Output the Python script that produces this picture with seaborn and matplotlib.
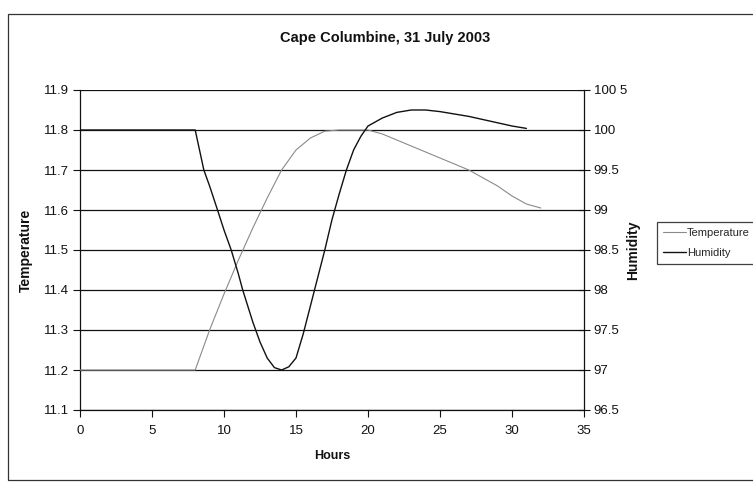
import numpy as np
import pandas as pd
import matplotlib
matplotlib.use("Agg")
import matplotlib.pyplot as plt
import seaborn as sns
from matplotlib.patches import Rectangle

# ---- data ----
temp_hours = [0, 1, 2, 3, 4, 5, 6, 7, 8, 9, 10, 11, 12, 13, 14, 15, 16, 17, 18, 19,
              20, 21, 22, 23, 24, 25, 26, 27, 28, 29, 30, 31, 32]
temperature = [11.2, 11.2, 11.2, 11.2, 11.2, 11.2, 11.2, 11.2, 11.2, 11.3, 11.39,
               11.475, 11.555, 11.63, 11.70, 11.75, 11.78, 11.797, 11.80, 11.80,
               11.80, 11.79, 11.775, 11.76, 11.745, 11.73, 11.715, 11.70, 11.68,
               11.66, 11.635, 11.615, 11.605]

hum_hours = [0, 1, 2, 3, 4, 5, 6, 7, 8, 8.6, 9, 9.55, 10, 10.5, 11, 11.3, 12, 12.5,
             13, 13.5, 14, 14.5, 15, 15.5, 16, 16.5, 17, 17.5, 18, 18.5, 19, 19.5,
             20, 21, 22, 23, 24, 25, 26, 27, 28, 29, 30, 31]
humidity = [100, 100, 100, 100, 100, 100, 100, 100, 100, 99.5, 99.3, 99.0, 98.75,
            98.5, 98.2, 98.0, 97.6, 97.35, 97.15, 97.03, 97.0, 97.04, 97.15, 97.45,
            97.8, 98.15, 98.5, 98.88, 99.2, 99.5, 99.75, 99.92, 100.05, 100.15,
            100.22, 100.25, 100.25, 100.23, 100.2, 100.17, 100.13, 100.09, 100.05,
            100.02]

x_ticks = [0, 5, 10, 15, 20, 25, 30, 35]
temp_ticks = [11.1, 11.2, 11.3, 11.4, 11.5, 11.6, 11.7, 11.8, 11.9]
hum_ticks = [96.5, 97, 97.5, 98, 98.5, 99, 99.5, 100, 100.5]
hum_labels = ["96.5", "97", "97.5", "98", "98.5", "99", "99.5", "100", "100 5"]

title = "Cape Columbine, 31 July 2003"

df_t = pd.DataFrame({"Hours": temp_hours, "Temperature": temperature})
df_h = pd.DataFrame({"Hours": hum_hours, "Humidity": humidity})

sns.set_style("white")
plt.rcParams["font.family"] = ["Liberation Sans Narrow", "Liberation Sans", "DejaVu Sans"]

W, H = 753, 482
fig = plt.figure(figsize=(W / 100, H / 100), dpi=100)
ax = fig.add_axes([80 / W, 1 - 410 / H, (584 - 80) / W, (410 - 90) / H])
ax2 = ax.twinx()

# outer chart frame (extends past the right edge, like the cropped scan)
fig.patches.append(Rectangle((8 / W, 1 - 480 / H), (770 - 8) / W, (480 - 14) / H,
                             transform=fig.transFigure, fill=False,
                             edgecolor="#333333", linewidth=0.9))

sns.lineplot(data=df_t, x="Hours", y="Temperature", ax=ax, color="#8a8a8a",
             linewidth=0.8, label="Temperature", legend=False, zorder=3)
sns.lineplot(data=df_h, x="Hours", y="Humidity", ax=ax2, color="#111111",
             linewidth=1.0, label="Humidity", legend=False, zorder=3)

ax.set_xlim(0, 35)
ax.set_ylim(11.1, 11.9)
ax2.set_ylim(96.5, 100.5)
ax.set_xticks(x_ticks)
ax.set_yticks(temp_ticks)
ax.set_yticklabels([f"{v:.1f}" for v in temp_ticks])
ax2.set_yticks(hum_ticks)
ax2.set_yticklabels(hum_labels)

ax.grid(axis="y", color="#111111", linewidth=0.9)
ax.grid(axis="x", visible=False)
ax2.grid(False)

for a in (ax, ax2):
    for s in a.spines.values():
        s.set_visible(False)
for a, side in ((ax, "left"), (ax, "bottom"), (ax2, "right")):
    a.spines[side].set_visible(True)
    a.spines[side].set_color("#111111")
    a.spines[side].set_linewidth(0.9)

ax.tick_params(axis="y", direction="out", length=5, width=0.8, colors="#111111",
               labelsize=9.5, pad=3, left=True)
ax.tick_params(axis="x", direction="out", length=5, width=0.8, colors="#111111",
               labelsize=9.5, pad=6, bottom=True)
ax2.tick_params(axis="y", direction="inout", length=8, width=0.8, colors="#111111",
                labelsize=9.5, pad=3, right=True)

ax.set_xlabel("Hours", fontsize=9, fontweight="bold", color="#111111")
ax.set_ylabel("Temperature", fontsize=10, fontweight="bold", color="#111111")
ax2.set_ylabel("Humidity", fontsize=10, fontweight="bold", color="#111111")
ax.xaxis.set_label_coords(0.5, -(450 - 410) / 320)
ax.yaxis.set_label_coords(-(80 - 33) / 504, 0.5)
ax2.yaxis.set_label_coords((626 - 80) / 504, 0.5)

fig.text(385 / W, 1 - 38 / H, title, ha="center", va="center", fontsize=10.5,
         fontweight="bold", color="#111111", fontfamily=["Liberation Sans", "DejaVu Sans"])

h1, l1 = ax.get_legend_handles_labels()
h2, l2 = ax2.get_legend_handles_labels()
leg = fig.legend(h1 + h2, l1 + l2, loc="upper left",
                 bbox_to_anchor=(657 / W, 1 - 222 / H), borderaxespad=0,
                 fontsize=8, frameon=True, fancybox=False, edgecolor="#111111",
                 handlelength=2.1, handletextpad=0.12, borderpad=0.5,
                 labelspacing=0.95)
leg.get_frame().set_linewidth(0.9)

fig.savefig("out.png", dpi=100)
